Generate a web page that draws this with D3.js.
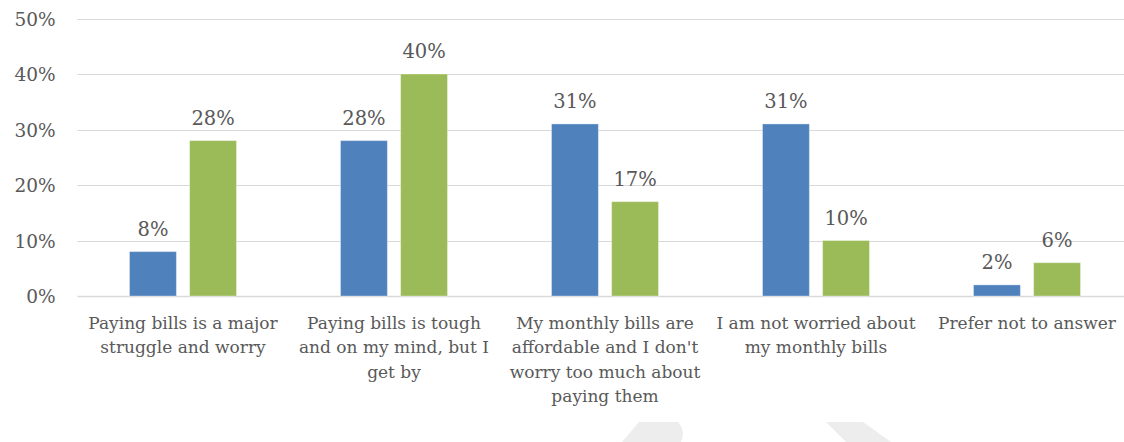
<!DOCTYPE html>
<html>
<head>
<meta charset="utf-8">
<script src="https://cdn.jsdelivr.net/npm/d3@7"></script>
<style>
  html, body { margin: 0; padding: 0; background: #fff; }
  svg { display: block; }
  text { font-family: "DejaVu Serif", serif; fill: #595959; }
</style>
</head>
<body>
<svg id="chart" width="1124" height="442"></svg>
<script>
// Survey answers about monthly bills
const categories = [
  ["Paying bills is a major", "struggle and worry"],
  ["Paying bills is tough", "and on my mind, but I", "get by"],
  ["My monthly bills are", "affordable and I don't", "worry too much about", "paying them"],
  ["I am not worried about", "my monthly bills"],
  ["Prefer not to answer"]
];
const seriesA = [8, 28, 31, 31, 2];
const seriesB = [28, 40, 17, 10, 6];
const yTicks = [0, 10, 20, 30, 40, 50];
const colors = ["#4F81BD", "#9BBB59"];

const svg = d3.select("#chart");
const margin = { left: 77.5, right: -8.5, top: 18.5, bottom: 146 };
const W = 1124, H = 442;

const x0 = d3.scaleBand()
  .domain(d3.range(categories.length))
  .range([margin.left, W - margin.right])
  .paddingInner(0).paddingOuter(0);

const x1 = d3.scaleBand()
  .domain([0, 1])
  .range([0, 107])
  .paddingInner(0.22);

const y = d3.scaleLinear().domain([0, 50]).range([H - margin.bottom, margin.top]);

// gridlines
svg.append("g")
  .selectAll("line")
  .data(yTicks)
  .join("line")
  .attr("x1", margin.left)
  .attr("x2", W)
  .attr("y1", d => Math.round(y(d)) + 0.5)
  .attr("y2", d => Math.round(y(d)) + 0.5)
  .attr("stroke", "#d9d9d9")
  .attr("stroke-width", d => d === 0 ? 1.5 : 1);

// y axis labels
const yAxis = d3.axisLeft(y).tickValues(yTicks).tickFormat(d => d + "%").tickSize(0).tickPadding(22);
const gy = svg.append("g").attr("transform", `translate(${margin.left},0)`).call(yAxis);
gy.select(".domain").remove();
gy.selectAll("text")
  .style("font-family", "'DejaVu Serif', serif")
  .style("font-size", "18.5px")
  .attr("fill", "#595959")
  .attr("dy", "0.36em");

// bars
const series = [seriesA, seriesB];
const groups = svg.append("g")
  .selectAll("g")
  .data(categories.map((c, i) => i))
  .join("g")
  .attr("transform", i => `translate(${x0(i) + (x0.bandwidth() - 107) / 2},0)`);

groups.selectAll("rect")
  .data(i => series.map((s, k) => ({ k, v: s[i] })))
  .join("rect")
  .attr("x", d => x1(d.k))
  .attr("width", x1.bandwidth())
  .attr("y", d => y(d.v))
  .attr("height", d => y(0) - y(d.v))
  .attr("fill", d => colors[d.k])
  .attr("stroke", "rgba(255,255,255,0.35)")
  .attr("stroke-width", 1);

groups.selectAll("text.val")
  .data(i => series.map((s, k) => ({ k, v: s[i] })))
  .join("text")
  .attr("class", "val")
  .attr("x", d => x1(d.k) + x1.bandwidth() / 2)
  .attr("y", d => y(d.v) - 16)
  .attr("text-anchor", "middle")
  .style("font-size", "19.5px")
  .text(d => d.v + "%");

// category labels
const cl = svg.append("g")
  .selectAll("text")
  .data(categories.map((c, i) => ({ c, i })))
  .join("text")
  .attr("x", d => x0(d.i) + x0.bandwidth() / 2)
  .attr("y", 329)
  .attr("text-anchor", "middle")
  .style("font-size", "17px");
cl.selectAll("tspan")
  .data(d => d.c)
  .join("tspan")
  .attr("x", function () { return d3.select(this.parentNode).attr("x"); })
  .attr("dy", (d, j) => j === 0 ? 0 : 24.3)
  .text(d => d);

// faint page decorations along the bottom edge
const deco = svg.append("g").attr("fill", "#ededed");
deco.append("path").attr("d", "M622,442 L639,422 L678,422 Q686,431 681,442 Z");
deco.append("path").attr("d", "M826,422 L863,422 L891,442 L846,442 Z");
</script>
</body>
</html>
